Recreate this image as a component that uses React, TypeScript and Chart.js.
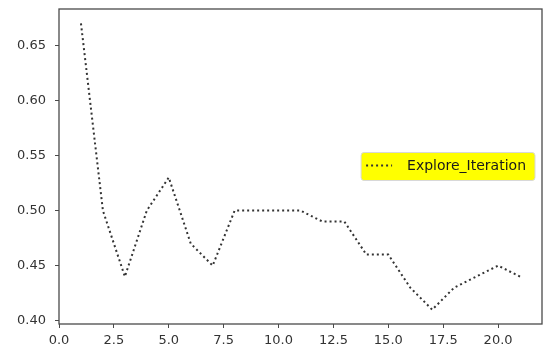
import React, { useEffect, useRef } from "react";
import { Chart, registerables } from "chart.js";

Chart.register(...registerables);

const iterations = [1, 2, 3, 4, 5, 6, 7, 8, 9, 10, 11, 12, 13, 14, 15, 16, 17, 18, 19, 20, 21];
const exploreValues = [0.67, 0.5, 0.44, 0.5, 0.53, 0.47, 0.45, 0.5, 0.5, 0.5, 0.5, 0.49, 0.49, 0.46, 0.46, 0.43, 0.41, 0.43, 0.44, 0.45, 0.44];
const xTicks = [0, 2.5, 5, 7.5, 10, 12.5, 15, 17.5, 20];
const yTicks = [0.4, 0.45, 0.5, 0.55, 0.6, 0.65];
const seriesLabel = "Explore_Iteration";

const FONT = "'DejaVu Sans', sans-serif";
const AXIS_COLOR = "#4a4a4a";
const LINE_COLOR = "#333333";

const framePlugin = {
  id: "frame",
  afterDraw(chart: any) {
    const { ctx, chartArea } = chart;
    ctx.save();
    ctx.strokeStyle = AXIS_COLOR;
    ctx.lineWidth = 1.3;
    ctx.strokeRect(chartArea.left, chartArea.top, chartArea.right - chartArea.left, chartArea.bottom - chartArea.top);
    ctx.restore();
  },
};

const legendPlugin = {
  id: "mplLegend",
  afterDraw(chart: any) {
    const { ctx, chartArea } = chart;
    const ds = chart.data.datasets[0];
    ctx.save();
    ctx.font = `14px ${FONT}`;
    const textW = ctx.measureText(ds.label).width;
    const h = 28;
    const w = 46 + textW + 9;
    const right = chartArea.right - 7;
    const x = right - w;
    const cy = (chartArea.top + chartArea.bottom) / 2;
    const y = cy - h / 2;
    const r = 3;
    ctx.beginPath();
    ctx.moveTo(x + r, y);
    ctx.lineTo(x + w - r, y);
    ctx.quadraticCurveTo(x + w, y, x + w, y + r);
    ctx.lineTo(x + w, y + h - r);
    ctx.quadraticCurveTo(x + w, y + h, x + w - r, y + h);
    ctx.lineTo(x + r, y + h);
    ctx.quadraticCurveTo(x, y + h, x, y + h - r);
    ctx.lineTo(x, y + r);
    ctx.quadraticCurveTo(x, y, x + r, y);
    ctx.closePath();
    ctx.fillStyle = "#ffff00";
    ctx.fill();
    ctx.strokeStyle = "#d8d8d8";
    ctx.lineWidth = 1;
    ctx.stroke();
    ctx.beginPath();
    ctx.setLineDash([2, 3]);
    ctx.strokeStyle = LINE_COLOR;
    ctx.lineWidth = 2;
    ctx.moveTo(x + 5, cy - 1);
    ctx.lineTo(x + 31, cy - 1);
    ctx.stroke();
    ctx.setLineDash([]);
    ctx.fillStyle = "#1a1a1a";
    ctx.textBaseline = "middle";
    ctx.textAlign = "left";
    ctx.fillText(ds.label, x + 46, cy);
    ctx.restore();
  },
};

export default function App() {
  const ref = useRef<HTMLCanvasElement>(null);
  useEffect(() => {
    if (!ref.current) return;
    const chart = new Chart(ref.current, {
      type: "line",
      data: {
        datasets: [
          {
            label: seriesLabel,
            data: iterations.map((x, i) => ({ x, y: exploreValues[i] })),
            borderColor: LINE_COLOR,
            borderWidth: 2,
            borderDash: [2, 3],
            borderCapStyle: "butt",
            pointRadius: 0,
            tension: 0,
            fill: false,
          },
        ],
      },
      plugins: [framePlugin, legendPlugin],
      options: {
        animation: false,
        responsive: false,
        maintainAspectRatio: false,
        layout: { padding: { top: 9, right: 2, left: 0, bottom: 0 } },
        plugins: { legend: { display: false }, tooltip: { enabled: false } },
        scales: {
          x: {
            type: "linear",
            min: 0,
            max: 22,
            afterBuildTicks: (scale: any) => {
              scale.ticks = xTicks.map((v) => ({ value: v }));
            },
            afterFit: (scale: any) => {
              scale.height = 25;
              scale.paddingLeft = 0;
              scale.paddingRight = 0;
            },
            border: { display: false },
            grid: { drawOnChartArea: false, drawTicks: true, tickLength: 4, color: AXIS_COLOR, lineWidth: 1 },
            ticks: {
              autoSkip: false,
              maxRotation: 0,
              padding: 5,
              color: "#333",
              font: { family: FONT, size: 13 },
              callback: (v: any) => Number(v).toFixed(1),
            },
          },
          y: {
            type: "linear",
            min: 0.397,
            max: 0.683,
            afterBuildTicks: (scale: any) => {
              scale.ticks = yTicks.map((v) => ({ value: v }));
            },
            afterFit: (scale: any) => {
              scale.width = 59;
              scale.paddingTop = 0;
              scale.paddingBottom = 0;
            },
            border: { display: false },
            grid: { drawOnChartArea: false, drawTicks: true, tickLength: 4, color: AXIS_COLOR, lineWidth: 1 },
            ticks: {
              autoSkip: false,
              padding: 9,
              color: "#333",
              font: { family: FONT, size: 13 },
              callback: (v: any) => Number(v).toFixed(2),
            },
          },
        },
      },
    });
    return () => chart.destroy();
  }, []);
  return (
    <div style={{ position: "fixed", left: 0, top: 0, width: 544, height: 349, background: "#fff" }}>
      <canvas ref={ref} width={544} height={349} style={{ width: 544, height: 349 }} />
    </div>
  );
}
